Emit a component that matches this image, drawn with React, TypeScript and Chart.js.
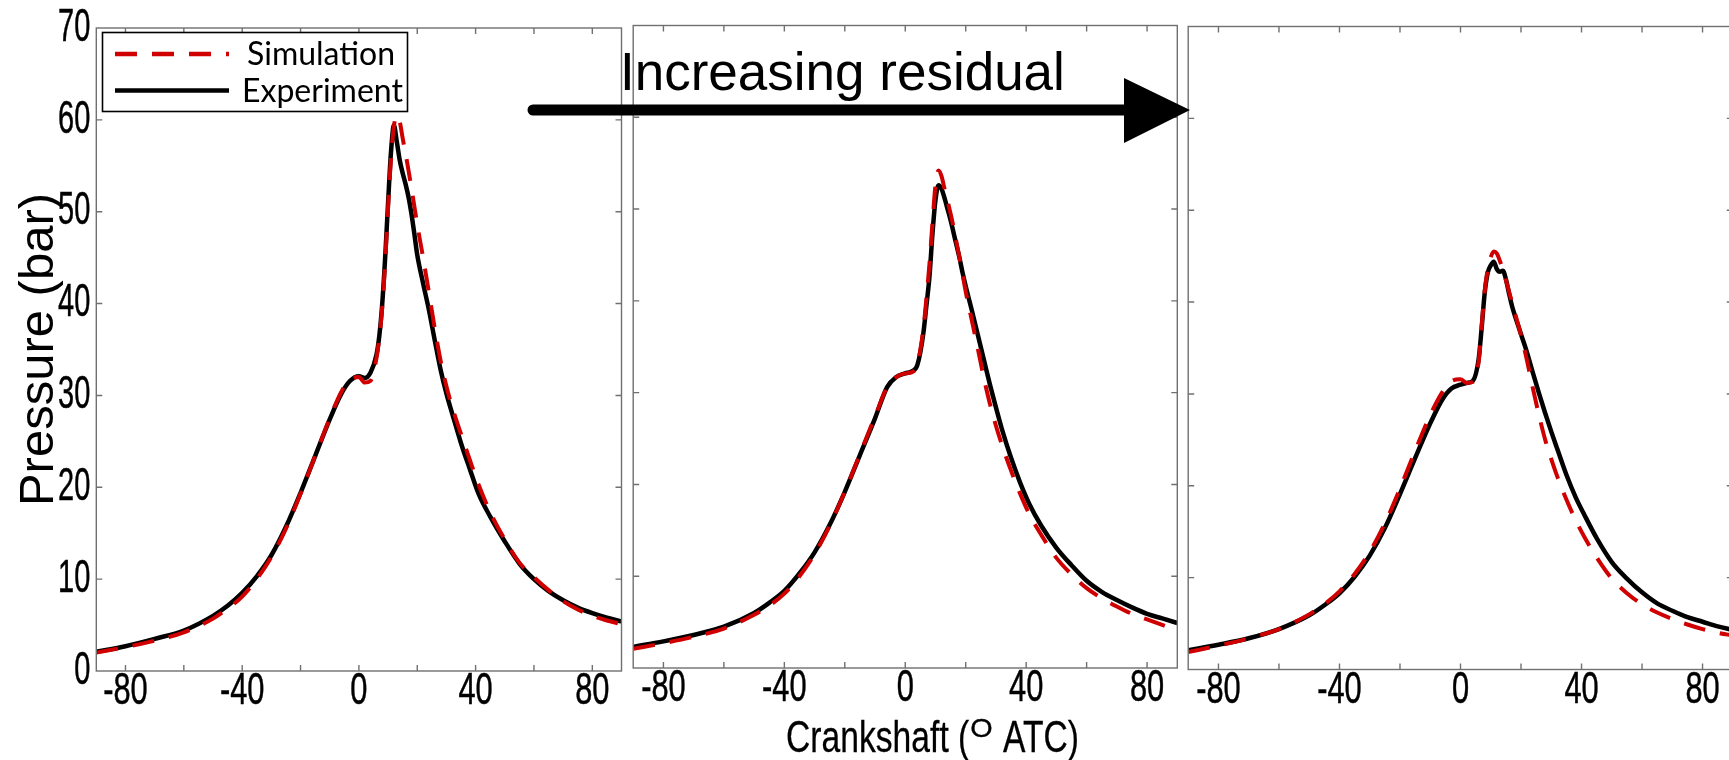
import React, { useEffect, useRef } from 'react';
import { Chart, registerables } from 'chart.js';

Chart.register(...registerables);

// ---------- data ----------
const ANGLES = [-90, -80, -70, -60, -50, -45, -40, -35, -30, -25, -20, -15, -10, -6, -3, 0, 2, 4, 6, 7, 8, 9, 10, 11, 12, 13, 14, 15, 16, 17, 18, 19, 20, 22, 24, 26, 28, 30, 32, 35, 38, 41, 45, 50, 55, 60, 65, 70, 75, 80, 85, 90];

const SIM_1 = [2.0, 2.6, 3.3, 4.2, 5.7, 6.8, 8.1, 10.0, 12.4, 15.5, 19.3, 23.4, 27.5, 30.4, 31.8, 32.0, 31.4, 31.6, 34.0, 36.3, 39.6, 44.5, 50.5, 55.8, 59.3, 60.5, 59.8, 58.0, 56.3, 54.5, 52.6, 50.6, 48.6, 45.0, 41.2, 37.3, 33.8, 31.0, 28.7, 25.8, 23.0, 20.3, 17.3, 14.3, 11.8, 10.2, 8.8, 7.6, 6.7, 6.0, 5.5, 5.1];
const EXP_1 = [2.1, 2.7, 3.5, 4.4, 6.0, 7.1, 8.5, 10.3, 12.6, 15.7, 19.4, 23.4, 27.4, 30.2, 31.6, 32.1, 31.9, 32.5, 34.4, 36.5, 40.0, 45.0, 51.0, 56.5, 59.4, 57.6, 55.6, 54.2, 53.0, 51.6, 49.8, 47.6, 45.3, 42.2, 39.3, 36.0, 32.8, 30.2, 28.0, 24.8, 22.0, 19.3, 16.8, 14.1, 11.7, 10.0, 8.7, 7.7, 6.9, 6.3, 5.8, 5.4];

const SIM_2 = [2.1, 2.7, 3.4, 4.3, 5.8, 6.8, 8.1, 10.0, 12.4, 15.5, 19.2, 23.3, 27.4, 30.6, 31.7, 32.1, 32.2, 33.1, 37.0, 40.3, 44.0, 48.5, 52.6, 54.2, 53.6, 52.2, 50.9, 49.5, 48.0, 46.3, 44.6, 42.8, 41.0, 37.9, 34.8, 31.6, 28.8, 26.4, 24.3, 21.5, 19.0, 16.8, 14.5, 12.0, 10.2, 8.7, 7.6, 6.7, 5.9, 5.3, 4.7, 4.1];
const EXP_2 = [2.3, 2.9, 3.6, 4.5, 6.0, 7.1, 8.4, 10.3, 12.6, 15.6, 19.2, 23.2, 27.2, 30.6, 31.7, 32.1, 32.3, 33.0, 36.5, 39.5, 42.6, 47.3, 51.0, 52.6, 52.2, 51.2, 50.0, 48.8, 47.4, 46.0, 44.6, 43.0, 41.6, 39.0, 36.3, 33.6, 30.9, 28.4, 26.0, 22.9, 20.2, 17.9, 15.5, 13.1, 11.2, 9.5, 8.3, 7.4, 6.6, 5.9, 5.4, 4.9];

const SIM_3 = [1.9, 2.6, 3.4, 4.4, 6.0, 7.1, 8.5, 10.4, 12.8, 15.9, 19.7, 23.8, 27.7, 30.2, 31.4, 31.6, 31.2, 31.3, 33.5, 37.4, 41.2, 43.6, 44.9, 45.5, 45.3, 44.5, 43.5, 42.4, 41.2, 40.0, 38.8, 37.6, 36.4, 33.6, 30.5, 27.6, 25.0, 22.9, 21.0, 18.5, 16.3, 14.4, 12.2, 9.9, 8.3, 7.1, 6.2, 5.5, 4.9, 4.4, 4.0, 3.7];
const EXP_3 = [2.1, 2.7, 3.4, 4.4, 5.9, 7.0, 8.3, 10.1, 12.4, 15.4, 19.1, 23.0, 26.8, 29.4, 30.6, 31.0, 31.2, 31.4, 33.8, 37.2, 41.0, 43.2, 44.0, 44.4, 43.6, 43.3, 43.4, 42.5, 41.0, 39.6, 38.5, 37.5, 36.5, 34.5, 32.2, 30.0, 27.9, 25.9, 24.0, 21.2, 18.8, 16.8, 14.3, 11.7, 9.9, 8.4, 7.2, 6.4, 5.7, 5.2, 4.7, 4.3];

const X_TICKS = [-80, -60, -40, -20, 0, 20, 40, 60, 80];
const X_LABEL_STEP = 40;
const Y_TICKS = [0, 10, 20, 30, 40, 50, 60, 70];
const X_RANGE = [-90, 90];
const Y_RANGE = [0, 70];

const SERIES_LABELS = ['Simulation', 'Experiment'];
const Y_TITLE = 'Pressure (bar)';
const X_TITLE_PARTS = ['Crankshaft (', 'O', ' ATC)'];
const ARROW_LABEL = 'Increasing residual';

// ---------- layout / styles ----------
const CANVAS_W = 1760;
const CANVAS_H = 760;
const RED = '#d00000';
const AXIS_GREY = '#707070';
const SANS = '"Liberation Sans", Arial, sans-serif';
// condensed tick-label look (font size, horizontal squeeze)
const X_LABEL_FONT = { size: 44, squeeze: 0.7, gap: 21 };
const Y_LABEL_FONT = { size: 46, squeeze: 0.63, gap: 6 };

type Area = { left: number; right: number; top: number; bottom: number };

const PANELS: { sim: number[]; exp: number[]; area: Area; yLabels: boolean }[] = [
  { sim: SIM_1, exp: EXP_1, area: { left: 96.3, right: 621.5, top: 28, bottom: 671 }, yLabels: true },
  { sim: SIM_2, exp: EXP_2, area: { left: 633.2, right: 1177.3, top: 25.5, bottom: 668 }, yLabels: false },
  { sim: SIM_3, exp: EXP_3, area: { left: 1188.2, right: 1732.8, top: 26.5, bottom: 669.5 }, yLabels: false },
];

const toPoints = (vals: number[]) => ANGLES.map((a, i) => ({ x: a, y: vals[i] }));

function squeezedText(ctx: CanvasRenderingContext2D, text: string, x: number, y: number, sx: number, align: CanvasTextAlign, weight = 0) {
  ctx.save();
  ctx.translate(x, y);
  ctx.scale(sx, 1);
  ctx.textAlign = align;
  ctx.fillText(text, 0, 0);
  if (weight > 0) {
    ctx.lineWidth = weight;
    ctx.strokeStyle = ctx.fillStyle as string;
    ctx.strokeText(text, 0, 0);
  }
  ctx.restore();
}

const boxPlugin = {
  id: 'matlabBox',
  afterDraw(chart: any, _args: any, opts: any) {
    const { ctx, chartArea: a, scales } = chart;
    ctx.save();
    ctx.strokeStyle = AXIS_GREY;
    ctx.lineWidth = 1.4;
    ctx.strokeRect(a.left, a.top, a.right - a.left, a.bottom - a.top);
    const L = 6;
    ctx.beginPath();
    for (const t of scales.x.ticks) {
      const px = scales.x.getPixelForValue(t.value);
      if (px <= a.left + 1 || px >= a.right - 1) continue;
      ctx.moveTo(px, a.bottom);
      ctx.lineTo(px, a.bottom - L);
      ctx.moveTo(px, a.top);
      ctx.lineTo(px, a.top + L);
    }
    for (const t of scales.y.ticks) {
      const py = scales.y.getPixelForValue(t.value);
      if (py <= a.top + 1 || py >= a.bottom - 1) continue;
      ctx.moveTo(a.left, py);
      ctx.lineTo(a.left + L, py);
      ctx.moveTo(a.right, py);
      ctx.lineTo(a.right - L, py);
    }
    ctx.stroke();

    // tick labels (condensed), positioned by the chart's scales
    ctx.fillStyle = '#000000';
    ctx.textBaseline = 'middle';
    ctx.font = `${X_LABEL_FONT.size}px ${SANS}`;
    for (const t of scales.x.ticks) {
      const label = t.value % X_LABEL_STEP === 0 ? String(t.value) : '';
      if (!label) continue;
      squeezedText(ctx, label, scales.x.getPixelForValue(t.value), a.bottom + X_LABEL_FONT.gap, X_LABEL_FONT.squeeze, 'center', 0.5);
    }
    if (opts && opts.yLabels) {
      ctx.font = `${Y_LABEL_FONT.size}px ${SANS}`;
      for (const t of scales.y.ticks) {
        squeezedText(ctx, String(t.value), a.left - Y_LABEL_FONT.gap, scales.y.getPixelForValue(t.value), Y_LABEL_FONT.squeeze, 'right', 0.5);
      }
    }
    ctx.restore();
  },
};

const legendPlugin = {
  id: 'insetLegend',
  afterDraw(chart: any) {
    const { ctx } = chart;
    const x0 = 102.5, y0 = 32.5, w = 305, h = 79;
    ctx.save();
    ctx.fillStyle = '#ffffff';
    ctx.fillRect(x0, y0, w, h);
    ctx.strokeStyle = '#000';
    ctx.lineWidth = 1.6;
    ctx.strokeRect(x0, y0, w, h);
    const rows = [
      { y: 54, tx: 247 },
      { y: 90.5, tx: 242 },
    ];
    chart.data.datasets.forEach((ds: any, i: number) => {
      const r = rows[i];
      ctx.beginPath();
      ctx.setLineDash(ds.borderDash || []);
      ctx.strokeStyle = ds.borderColor;
      ctx.lineWidth = 4.5;
      ctx.moveTo(115, r.y);
      ctx.lineTo(229, r.y);
      ctx.stroke();
      ctx.setLineDash([]);
      ctx.fillStyle = '#000';
      ctx.font = '32px Lato, "Liberation Sans", sans-serif';
      ctx.textBaseline = 'middle';
      ctx.textAlign = 'left';
      ctx.fillText(ds.label, r.tx, r.y + 1);
    });
    ctx.restore();
  },
};

const overlayPlugin = {
  id: 'figureOverlay',
  afterDraw(chart: any) {
    const { ctx } = chart;
    ctx.save();
    // arrow
    ctx.strokeStyle = '#000';
    ctx.fillStyle = '#000';
    ctx.lineWidth = 11;
    ctx.lineCap = 'round';
    ctx.beginPath();
    ctx.moveTo(533, 110);
    ctx.lineTo(1128, 110);
    ctx.stroke();
    ctx.beginPath();
    ctx.moveTo(1124, 78);
    ctx.lineTo(1190, 110);
    ctx.lineTo(1124, 143);
    ctx.closePath();
    ctx.fill();
    // arrow label
    ctx.font = `53px ${SANS}`;
    ctx.textBaseline = 'alphabetic';
    ctx.textAlign = 'left';
    ctx.fillText(ARROW_LABEL, 620, 90);
    // x title with raised O, condensed
    const sx = 0.765;
    const base = 752;
    let x = 786;
    ctx.font = `44px ${SANS}`;
    squeezedText(ctx, X_TITLE_PARTS[0], x, base, sx, 'left', 0.3);
    x += ctx.measureText(X_TITLE_PARTS[0]).width * sx;
    ctx.font = `25px ${SANS}`;
    squeezedText(ctx, X_TITLE_PARTS[1], x + 1, base - 15, 1.15, 'left', 0.3);
    x += ctx.measureText(X_TITLE_PARTS[1]).width * 1.15 + 2;
    ctx.font = `44px ${SANS}`;
    squeezedText(ctx, X_TITLE_PARTS[2], x, base, sx, 'left', 0.3);
    ctx.restore();
  },
};

function makeConfig(panel: { sim: number[]; exp: number[]; area: Area; yLabels: boolean }, idx: number): any {
  const a = panel.area;
  const extra: any[] = [];
  if (idx === 0) extra.push(legendPlugin);
  if (idx === 2) extra.push(overlayPlugin);
  return {
    type: 'line',
    data: {
      datasets: [
        {
          label: SERIES_LABELS[0],
          data: toPoints(panel.sim),
          borderColor: RED,
          borderWidth: 4,
          borderDash: [22, 15],
          pointRadius: 0,
          cubicInterpolationMode: 'monotone',
          fill: false,
        },
        {
          label: SERIES_LABELS[1],
          data: toPoints(panel.exp),
          borderColor: '#000000',
          borderWidth: 4.5,
          pointRadius: 0,
          cubicInterpolationMode: 'monotone',
          fill: false,
        },
      ],
    },
    options: {
      responsive: false,
      animation: false,
      devicePixelRatio: 1,
      events: [],
      layout: {
        autoPadding: false,
        padding: { left: 0, top: a.top, right: CANVAS_W - a.right, bottom: 0 },
      },
      plugins: {
        legend: { display: false },
        tooltip: { enabled: false },
        matlabBox: { yLabels: panel.yLabels },
      },
      scales: {
        x: {
          type: 'linear',
          position: 'bottom',
          min: X_RANGE[0],
          max: X_RANGE[1],
          afterBuildTicks: (s: any) => {
            s.ticks = X_TICKS.map((v) => ({ value: v }));
          },
          afterFit: (s: any) => {
            s.height = CANVAS_H - a.bottom;
          },
          grid: { display: false, drawTicks: false },
          border: { display: false },
          ticks: { display: false },
        },
        y: {
          type: 'linear',
          position: 'left',
          min: Y_RANGE[0],
          max: Y_RANGE[1],
          afterBuildTicks: (s: any) => {
            s.ticks = Y_TICKS.map((v) => ({ value: v }));
          },
          afterFit: (s: any) => {
            s.width = a.left;
          },
          grid: { display: false, drawTicks: false },
          border: { display: false },
          ticks: { display: false },
          title: {
            display: panel.yLabels,
            text: Y_TITLE,
            color: '#000',
            font: { family: SANS, size: 49, lineHeight: 1.2 },
            padding: { top: 10, bottom: 0 },
          },
        },
      },
    },
    plugins: [boxPlugin, ...extra],
  };
}

export default function App() {
  const r0 = useRef<HTMLCanvasElement>(null);
  const r1 = useRef<HTMLCanvasElement>(null);
  const r2 = useRef<HTMLCanvasElement>(null);
  const refs = [r0, r1, r2];

  useEffect(() => {
    const charts = PANELS.map((p, i) => new Chart(refs[i].current as HTMLCanvasElement, makeConfig(p, i)));
    return () => charts.forEach((c) => c.destroy());
  }, []);

  return (
    <div
      style={{
        position: 'fixed',
        left: 0,
        top: 0,
        width: 1729,
        height: 760,
        overflow: 'hidden',
        background: '#ffffff',
      }}
    >
      {PANELS.map((_, i) => (
        <canvas
          key={i}
          ref={refs[i]}
          width={CANVAS_W}
          height={CANVAS_H}
          style={{ position: 'absolute', left: 0, top: 0, width: CANVAS_W, height: CANVAS_H }}
        />
      ))}
    </div>
  );
}
